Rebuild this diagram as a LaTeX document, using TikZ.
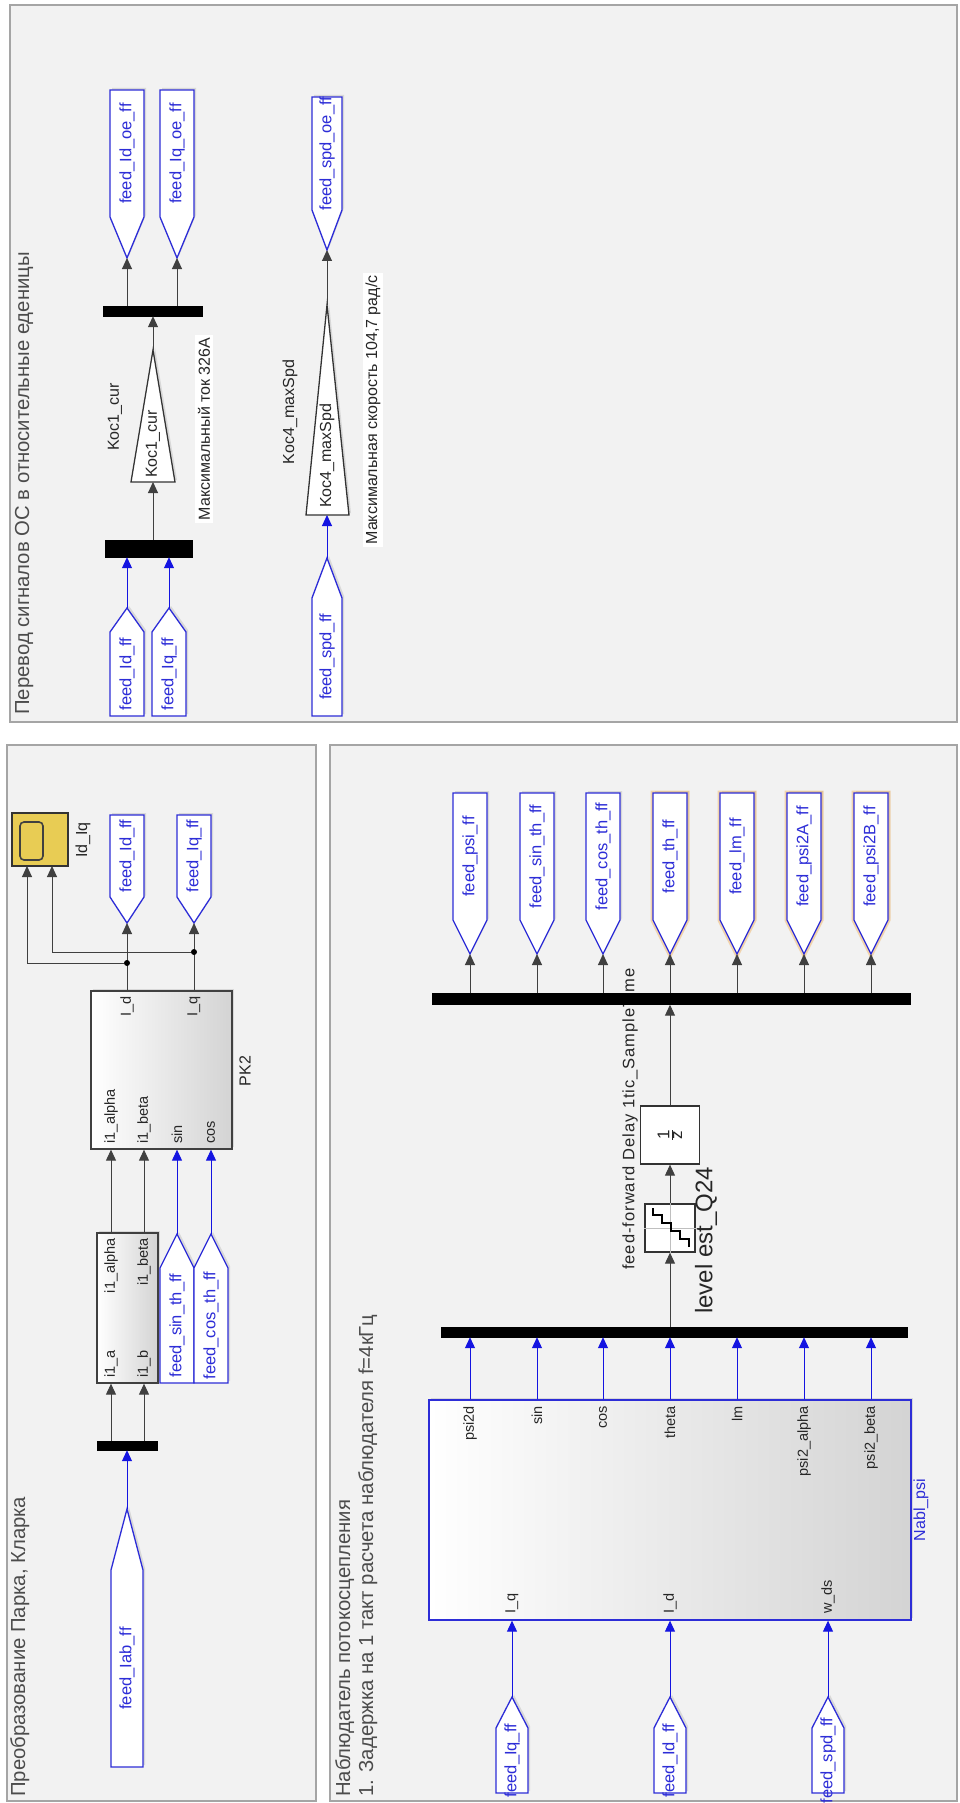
\documentclass[tikz,border=0pt]{standalone}
\usepackage{fontspec}
\setmainfont{Liberation Sans}
\usepackage{tikz}
\usetikzlibrary{shapes, arrows.meta, positioning, shadows}

\definecolor{panelbg}{RGB}{242,242,242}
\definecolor{panelrule}{RGB}{165,165,165}
\definecolor{tagblue}{RGB}{45,45,215}
\definecolor{wireblue}{RGB}{20,20,225}
\definecolor{scopeyel}{RGB}{232,204,84}
\definecolor{glowor}{RGB}{240,165,70}

\tikzstyle{panel} = [draw=panelrule, fill=panelbg, line width=1.3pt]
\tikzstyle{title} = [text=black!70, font=\fontsize{20.3}{23}\selectfont, rotate=90, inner sep=0pt]
\tikzstyle{tag} = [draw=tagblue, fill=white, line width=1.3pt, drop shadow={opacity=0.22, shadow xshift=2pt, shadow yshift=2pt}]
\tikzstyle{glow} = [preaction={draw=glowor, line width=5pt, opacity=0.4}]
\tikzstyle{tagtext} = [text=tagblue, font=\fontsize{16.5}{19}\selectfont, rotate=90, inner sep=0pt]
\tikzstyle{bus} = [fill=black, draw=black, inner sep=0pt]
\tikzstyle{block} = [draw=black!75, line width=1.3pt, left color=white, right color=black!17, inner sep=0pt, drop shadow={opacity=0.22, shadow xshift=2pt, shadow yshift=2pt}]
\tikzstyle{gain} = [draw=black!80, fill=white, line width=1.3pt, drop shadow={opacity=0.22, shadow xshift=2pt, shadow yshift=2pt}]
\tikzstyle{line} = [draw, black!75, line width=1pt]
\tikzstyle{wire} = [line, -{Triangle[length=11pt, width=10pt]}]
\tikzstyle{bluewire} = [wire, wireblue]
\tikzstyle{port} = [text=black!85, font=\fontsize{14.5}{17}\selectfont, rotate=90, inner sep=0pt]
\tikzstyle{lbl} = [text=black!85, font=\fontsize{16}{18}\selectfont, rotate=90, inner sep=0pt]
\tikzstyle{note} = [lbl, fill=white, inner sep=2.5pt]
\tikzstyle{dot} = [circle, fill=black, inner sep=0pt, minimum size=6pt]

% tag: [style]{name}{x}{half width}{base y}{shoulder y}{tip y}{text}
\newcommand{\sigtag}[8][]{%
  \path [tag, #1] ({#3-#4},#5) -- ({#3+#4},#5) -- ({#3+#4},#6) -- (#3,#7) -- ({#3-#4},#6) -- cycle;
  \node [tagtext] (#2-txt) at (#3,{(#5+#6)/2}) {#8};
  \coordinate (#2) at (#3,#7);}

\begin{document}
\begin{tikzpicture}[x=1pt, y=-1pt]
\useasboundingbox (0,0) rectangle (960,1803);

% panels
\path [panel] (10,5) rectangle (957,722);
\path [panel] (7,745) rectangle (316,1801);
\path [panel] (330,745) rectangle (957,1801);

% feedback scaling
\node [title, anchor=base west] (ttlTop) at (29,715) {Перевод сигналов ОС в относительные еденицы};

\sigtag{fIdA}{127}{17}{716}{632}{608}{feed\_Id\_ff}
\sigtag{fIqA}{169}{17}{716}{632}{608}{feed\_Iq\_ff}
\node [bus, minimum width=87, minimum height=17] (busA) at (148.5,548.5) {};
\path [bluewire] (fIdA) -- (fIdA |- busA.south);
\path [bluewire] (fIqA) -- (fIqA |- busA.south);

\path [gain] (131,482) -- (175,482) -- (153,350) -- cycle;
\coordinate (k1in) at (153,482);
\coordinate (k1out) at (153,350);
\node [lbl, anchor=west] (k1txt) at (153,478) {Koc1\_cur};
\node [lbl] (k1lbl) at (115,417) {Koc1\_cur};
\node [note] (k1note) at (204,429) {Максимальный ток 326А};
\path [wire] (busA.north -| k1in) -- (k1in);

\node [bus, minimum width=99, minimum height=10] (busB) at (152.5,311) {};
\path [wire] (k1out) -- (k1out |- busB.south);
\sigtag{fIdOE}{127}{17}{90}{217}{258}{feed\_Id\_oe\_ff}
\sigtag{fIqOE}{177}{17}{90}{217}{258}{feed\_Iq\_oe\_ff}
\path [wire] (busB.north -| fIdOE) -- (fIdOE);
\path [wire] (busB.north -| fIqOE) -- (fIqOE);

\sigtag{fSpdA}{327}{15}{716}{598}{558}{feed\_spd\_ff}
\path [gain] (306,515) -- (349,515) -- (327,305) -- cycle;
\coordinate (k4in) at (327,515);
\coordinate (k4out) at (327,305);
\node [lbl, anchor=west] (k4txt) at (327,508) {Koc4\_maxSpd};
\node [lbl] (k4lbl) at (290,412) {Koc4\_maxSpd};
\node [note] (k4note) at (373,410) {Максимальная скорость 104,7 рад/с};
\sigtag{fSpdOE}{327}{15}{97}{210}{250}{feed\_spd\_oe\_ff}
\path [bluewire] (fSpdA) -- (k4in);
\path [wire] (k4out) -- (fSpdOE);

% Park / Clarke
\node [title, anchor=base west] (ttlPark) at (25,1797) {Преобразование Парка, Кларка};

\node [draw=black!80, fill=scopeyel, line width=1.3pt, minimum width=56, minimum height=53, inner sep=0pt] (scope) at (40,839.5) {};
\draw [black!75, line width=1.6pt, rounded corners=4pt] (20,822) rectangle (43,860);
\node [lbl] (scopelbl) at (83,840) {Id\_Iq};
\coordinate (sc1) at (27,866);
\coordinate (sc2) at (52,866);

\sigtag{fIdB}{127}{17}{815}{897}{923}{feed\_Id\_ff}
\sigtag{fIqB}{194}{17}{815}{897}{923}{feed\_Iq\_ff}

\node [block, minimum width=141, minimum height=158] (pk2) at (161.5,1070) {};
\node [port, anchor=east] (pk2d) at (127,996) {I\_d};
\node [port, anchor=east] (pk2q) at (194,996) {I\_q};
\node [port, anchor=west] (pk2al) at (111,1144) {i1\_alpha};
\node [port, anchor=west] (pk2be) at (144,1144) {i1\_beta};
\node [port, anchor=west] (pk2s) at (177,1144) {sin};
\node [port, anchor=west] (pk2c) at (211,1144) {cos};
\node [lbl] (pk2lbl) at (245,1071) {PK2};

\path [wire] (pk2.north -| fIdB) -- (fIdB);
\path [wire] (pk2.north -| fIqB) -- (fIqB);
\node [dot] (jd) at (127,963) {};
\node [dot] (jq) at (194,952) {};
\path [wire] (jd) -| (sc1);
\path [wire] (jq) -| (sc2);

\node [block, minimum width=61, minimum height=150] (clarke) at (127.5,1308) {};
\node [port, anchor=east] (clal) at (111,1238) {i1\_alpha};
\node [port, anchor=east] (clbe) at (144,1238) {i1\_beta};
\node [port, anchor=west] (cla) at (111,1378) {i1\_a};
\node [port, anchor=west] (clb) at (144,1378) {i1\_b};
\path [wire] (clarke.north -| pk2al) -- (pk2al |- pk2.south);
\path [wire] (clarke.north -| pk2be) -- (pk2be |- pk2.south);

\sigtag{fSin}{177}{17}{1383}{1268}{1234}{feed\_sin\_th\_ff}
\sigtag{fCos}{211}{17}{1383}{1268}{1234}{feed\_cos\_th\_ff}
\path [bluewire] (fSin) -- (fSin |- pk2.south);
\path [bluewire] (fCos) -- (fCos |- pk2.south);

\node [bus, minimum width=60, minimum height=9] (busC) at (127,1445.5) {};
\path [wire] (busC.north -| cla) -- (cla |- clarke.south);
\path [wire] (busC.north -| clb) -- (clb |- clarke.south);
\sigtag{fIab}{127}{16}{1767}{1570}{1509}{feed\_Iab\_ff}
\path [bluewire] (fIab) -- (busC.south);

% flux observer
\node [title, anchor=base west] (ttlObs) at (350,1797) {Наблюдатель потокосцепления};
\node [title, anchor=base west] (ttlObs2) at (373,1797) {1. Задержка на 1 такт расчета наблюдателя f=4кГц};

\sigtag{fPsi}{470}{17}{793}{920}{954}{feed\_psi\_ff}
\sigtag{fSinO}{537}{17}{793}{920}{954}{feed\_sin\_th\_ff}
\sigtag{fCosO}{603}{17}{793}{920}{954}{feed\_cos\_th\_ff}
\sigtag[glow]{fTh}{670}{17}{793}{920}{954}{feed\_th\_ff}
\sigtag[glow]{fLm}{737}{17}{793}{920}{954}{feed\_lm\_ff}
\sigtag[glow]{fPsiA}{804}{17}{793}{920}{954}{feed\_psi2A\_ff}
\sigtag[glow]{fPsiB}{871}{17}{793}{920}{954}{feed\_psi2B\_ff}

\node [lbl, font=\fontsize{16.5}{19}\selectfont\addfontfeature{LetterSpace=6}, anchor=east] (ffnote) at (630,968) {feed-forward Delay 1tic\_SampleTime};
\node [bus, minimum width=478, minimum height=11] (busD) at (671,999) {};
\path [wire] (busD.north -| fPsi) -- (fPsi);
\path [wire] (busD.north -| fSinO) -- (fSinO);
\path [wire] (busD.north -| fCosO) -- (fCosO);
\path [wire] (busD.north -| fTh) -- (fTh);
\path [wire] (busD.north -| fLm) -- (fLm);
\path [wire] (busD.north -| fPsiA) -- (fPsiA);
\path [wire] (busD.north -| fPsiB) -- (fPsiB);

\node [draw=black!80, fill=white, line width=1.3pt, minimum width=59, minimum height=58, inner sep=0pt] (delay) at (670,1135) {};
\node [lbl, font=\fontsize{17}{19}\selectfont] (delaytxt) at (delay.center) {$\frac{\mbox{1}}{\mbox{z}}$};
\node [draw=black!80, fill=white, line width=1.3pt, minimum width=50, minimum height=48, inner sep=0pt] (quant) at (670,1228) {};
\draw [black!25, line width=0.8pt] (quant.west) -- (quant.east);
\draw [black!25, line width=0.8pt] (quant.north) -- (quant.south);
\draw [black, line width=1.2pt, shift={(quant.center)}] (19,19) -- (19,11) -- (10,11) -- (10,3) -- (1,3) -- (1,-5) -- (-8,-5) -- (-8,-13) -- (-17,-13) -- (-17,-20);
\node [lbl, font=\fontsize{24}{26}\selectfont, anchor=west] (qlbl) at (706,1314) {level est\_Q24};

\node [bus, minimum width=466, minimum height=10] (busE) at (674,1332) {};
\path [wire] (busE.north -| quant) -- (quant.south);
\path [wire] (quant.north) -- (delay.south);
\path [wire] (delay.north) -- (delay.north |- busD.south);

\node [block, draw=tagblue, minimum width=482, minimum height=220] (nabl) at (670,1510) {};
\node [port, anchor=east] (pPsi) at (470,1406) {psi2d};
\node [port, anchor=east] (pSin) at (537,1406) {sin};
\node [port, anchor=east] (pCos) at (603,1406) {cos};
\node [port, anchor=east] (pTh) at (670,1406) {theta};
\node [port, anchor=east] (pLm) at (737,1406) {lm};
\node [port, anchor=east] (pPsiA) at (804,1406) {psi2\_alpha};
\node [port, anchor=east] (pPsiB) at (871,1406) {psi2\_beta};
\node [port, anchor=west] (pIq) at (512,1614) {I\_q};
\node [port, anchor=west] (pId) at (670,1614) {I\_d};
\node [port, anchor=west] (pW) at (828,1614) {w\_ds};
\node [lbl, text=tagblue] (nabllbl) at (921,1510) {Nabl\_psi};

\path [bluewire] (nabl.north -| pPsi) -- (pPsi |- busE.south);
\path [bluewire] (nabl.north -| pSin) -- (pSin |- busE.south);
\path [bluewire] (nabl.north -| pCos) -- (pCos |- busE.south);
\path [bluewire] (nabl.north -| pTh) -- (pTh |- busE.south);
\path [bluewire] (nabl.north -| pLm) -- (pLm |- busE.south);
\path [bluewire] (nabl.north -| pPsiA) -- (pPsiA |- busE.south);
\path [bluewire] (nabl.north -| pPsiB) -- (pPsiB |- busE.south);

\sigtag{fIqC}{512}{16}{1793}{1728}{1697}{feed\_Iq\_ff}
\sigtag{fIdC}{670}{16}{1793}{1728}{1697}{feed\_Id\_ff}
\sigtag{fSpdC}{828}{16}{1793}{1728}{1697}{feed\_spd\_ff}
\path [bluewire] (fIqC) -- (fIqC |- nabl.south);
\path [bluewire] (fIdC) -- (fIdC |- nabl.south);
\path [bluewire] (fSpdC) -- (fSpdC |- nabl.south);
\end{tikzpicture}
\end{document}
